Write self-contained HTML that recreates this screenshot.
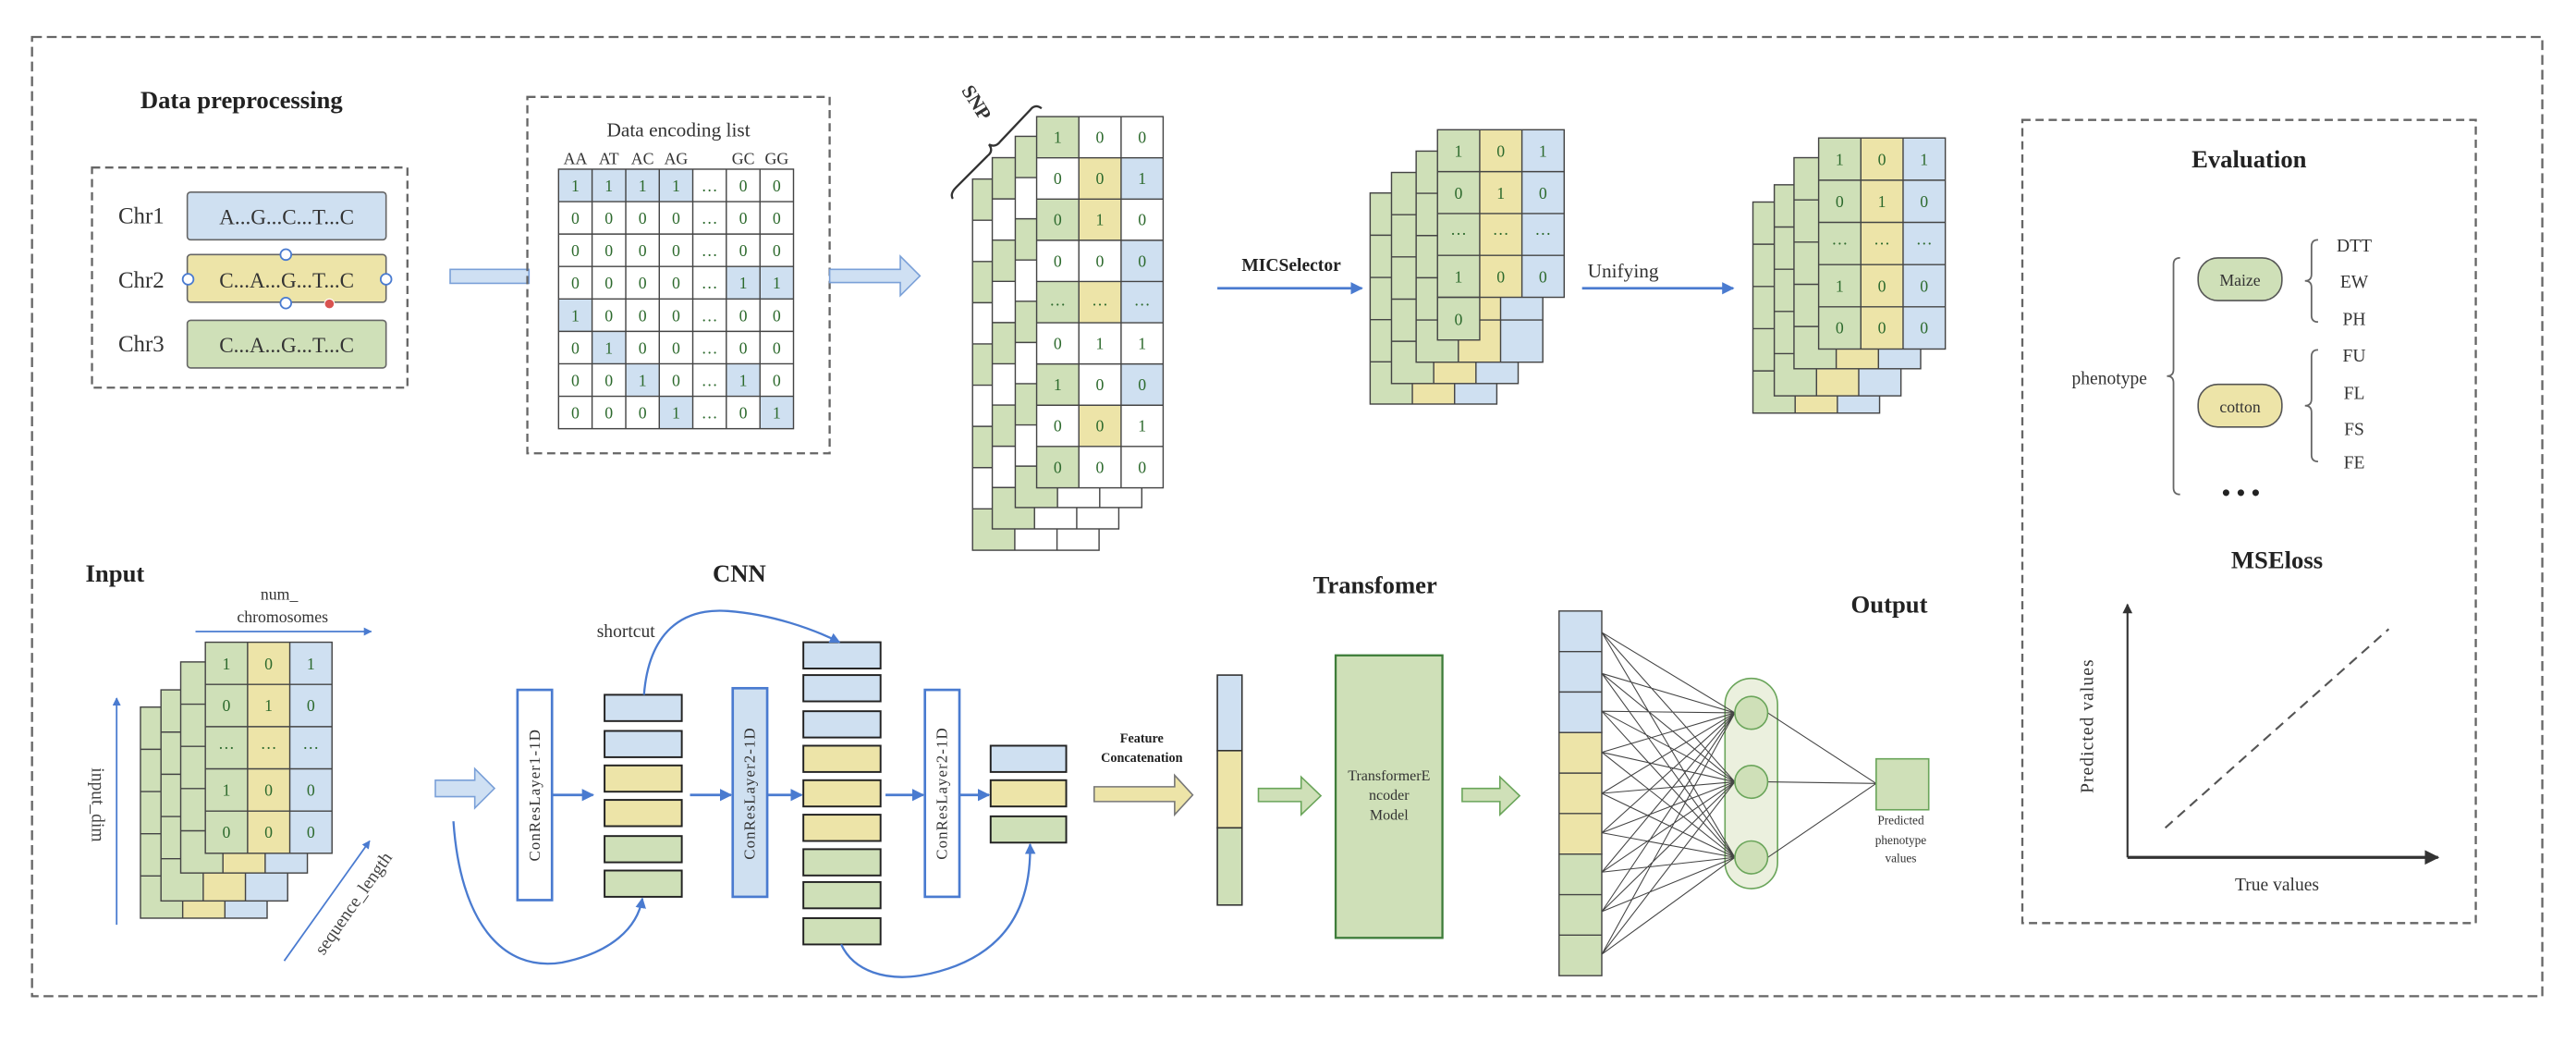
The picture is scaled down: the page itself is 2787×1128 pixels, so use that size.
<!DOCTYPE html>
<html><head><meta charset="utf-8"><style>
html,body{margin:0;padding:0;background:#fff;}
svg{display:block;}
text{font-family:"Liberation Serif",serif;}
</style></head><body>
<svg width="2787" height="1128" viewBox="0 0 1568 635" preserveAspectRatio="none" xmlns="http://www.w3.org/2000/svg">
<defs>
<marker id="ab" viewBox="0 0 10 10" refX="9" refY="5" markerWidth="5" markerHeight="5" orient="auto"><path d="M0,0 L10,5 L0,10 z" fill="#4a7bd0"/></marker>
<marker id="ak" viewBox="0 0 10 10" refX="9" refY="5" markerWidth="5" markerHeight="5" orient="auto"><path d="M0,0 L10,5 L0,10 z" fill="#333"/></marker>
<g id="s5">
<rect x="0" y="0" width="25.7" height="128.5" fill="#cfe0b8"/>
<rect x="25.7" y="0" width="25.7" height="128.5" fill="#ede4a8"/>
<rect x="51.4" y="0" width="25.7" height="128.5" fill="#cfe0f1"/>
<g stroke="#444" stroke-width="0.8" fill="none">
<rect x="0" y="0" width="77.1" height="128.5"/>
<path d="M25.7,0V128.5M51.4,0V128.5M0,25.7H77.1M0,51.4H77.1M0,77.1H77.1M0,102.8H77.1"/>
</g></g>
<g id="snpb">
<rect x="0" y="0" width="77" height="226" fill="#fff"/>
<g fill="#cfe0b8"><rect x="0" y="0" width="25.7" height="25.1"/><rect x="0" y="50.2" width="25.7" height="25.1"/><rect x="0" y="100.4" width="25.7" height="25.1"/><rect x="0" y="150.6" width="25.7" height="25.1"/><rect x="0" y="200.8" width="25.7" height="25.2"/></g>
<g stroke="#444" stroke-width="0.8" fill="none">
<rect x="0" y="0" width="77" height="226"/>
<path d="M25.7,0V226M51.4,0V226M0,25.1H77M0,50.2H77M0,75.3H77M0,100.4H77M0,125.5H77M0,150.6H77M0,175.7H77M0,200.8H77"/>
</g></g>
</defs>

<rect x="19.5" y="22.5" width="1528" height="584" fill="none" stroke="#666" stroke-width="1.3" stroke-dasharray="6,3"/>

<text x="147" y="66" font-size="15" font-weight="bold" text-anchor="middle" fill="#222">Data preprocessing</text>
<rect x="56" y="102" width="192" height="134" fill="none" stroke="#666" stroke-width="1.3" stroke-dasharray="5,3"/>
<text x="72" y="136" font-size="14" fill="#333">Chr1</text>
<text x="72" y="175" font-size="14" fill="#333">Chr2</text>
<text x="72" y="214" font-size="14" fill="#333">Chr3</text>
<rect x="114" y="117" width="121" height="29" rx="2" fill="#cfe0f1" stroke="#666" stroke-width="0.9"/>
<rect x="114" y="155" width="121" height="29" rx="2" fill="#ede4a8" stroke="#666" stroke-width="0.9"/>
<rect x="114" y="195" width="121" height="29" rx="2" fill="#cfe0b8" stroke="#666" stroke-width="0.9"/>
<text x="174.5" y="136.5" font-size="13" text-anchor="middle" fill="#333">A...G...C...T...C</text>
<text x="174.5" y="175" font-size="13" text-anchor="middle" fill="#333">C...A...G...T...C</text>
<text x="174.5" y="214.5" font-size="13" text-anchor="middle" fill="#333">C...A...G...T...C</text>
<g fill="#fff" stroke="#4a7bd0" stroke-width="1"><circle cx="174" cy="155" r="3.3"/><circle cx="114.5" cy="170" r="3.3"/><circle cx="235" cy="170" r="3.3"/><circle cx="174" cy="184.5" r="3.3"/></g>
<circle cx="200.5" cy="185" r="3" fill="#d9534f" stroke="#fff" stroke-width="0.6"/>

<rect x="274" y="164" width="48" height="8.5" fill="#cfe0f3" stroke="#7aa0d8" stroke-width="0.9"/>

<rect x="321" y="59" width="184" height="217" fill="none" stroke="#666" stroke-width="1.3" stroke-dasharray="5,3"/>
<text x="413" y="83" font-size="12" text-anchor="middle" fill="#333">Data encoding list</text>
<g font-size="10" fill="#333" text-anchor="middle">
<text x="350.2" y="100">AA</text><text x="370.6" y="100">AT</text><text x="391.1" y="100">AC</text><text x="411.5" y="100">AG</text><text x="452.4" y="100">GC</text><text x="472.8" y="100">GG</text>
</g>
<rect x="340" y="103" width="143" height="158" fill="#fff"/>
<g fill="#cfe0f1">
<rect x="340" y="103" width="81.7" height="19.75"/>
<rect x="442.1" y="162.25" width="40.9" height="19.75"/>
<rect x="340" y="182" width="20.4" height="19.75"/>
<rect x="360.4" y="201.75" width="20.5" height="19.75"/>
<rect x="380.9" y="221.5" width="20.4" height="19.75"/>
<rect x="442.1" y="221.5" width="20.5" height="19.75"/>
<rect x="401.3" y="241.25" width="20.4" height="19.75"/>
<rect x="462.6" y="241.25" width="20.4" height="19.75"/>
</g>
<g stroke="#444" stroke-width="0.8" fill="none">
<rect x="340" y="103" width="143" height="158"/>
<path d="M360.4,103V261M380.9,103V261M401.3,103V261M421.7,103V261M442.1,103V261M462.6,103V261M340,122.75H483M340,142.5H483M340,162.25H483M340,182H483M340,201.75H483M340,221.5H483M340,241.25H483"/>
</g>
<g font-size="10" fill="#2d6a2d" text-anchor="middle">
<text x="350.2 370.6 391.1 411.5 431.9 452.4 472.8" y="116.5">1111…00</text>
<text x="350.2 370.6 391.1 411.5 431.9 452.4 472.8" y="136.2">0000…00</text>
<text x="350.2 370.6 391.1 411.5 431.9 452.4 472.8" y="156">0000…00</text>
<text x="350.2 370.6 391.1 411.5 431.9 452.4 472.8" y="175.7">0000…11</text>
<text x="350.2 370.6 391.1 411.5 431.9 452.4 472.8" y="195.5">1000…00</text>
<text x="350.2 370.6 391.1 411.5 431.9 452.4 472.8" y="215.2">0100…00</text>
<text x="350.2 370.6 391.1 411.5 431.9 452.4 472.8" y="235">0010…10</text>
<text x="350.2 370.6 391.1 411.5 431.9 452.4 472.8" y="254.7">0001…01</text>
</g>

<path d="M505,164 H548 V156 L560,168 L548,180 V172 H505 Z" fill="#cfe0f3" stroke="#7aa0d8" stroke-width="0.9"/>

<use href="#snpb" x="592" y="109"/>
<use href="#snpb" x="604" y="96"/>
<use href="#snpb" x="618" y="83"/>
<rect x="631" y="71" width="77" height="226" fill="#fff"/>
<g>
<rect x="631" y="71" width="25.7" height="25.1" fill="#cfe0b8"/>
<rect x="656.7" y="96.1" width="25.7" height="25.1" fill="#ede4a8"/><rect x="682.4" y="96.1" width="25.6" height="25.1" fill="#cfe0f1"/>
<rect x="631" y="121.2" width="25.7" height="25.1" fill="#cfe0b8"/><rect x="656.7" y="121.2" width="25.7" height="25.1" fill="#ede4a8"/>
<rect x="682.4" y="146.3" width="25.6" height="25.1" fill="#cfe0f1"/>
<rect x="631" y="171.4" width="25.7" height="25.1" fill="#cfe0b8"/><rect x="656.7" y="171.4" width="25.7" height="25.1" fill="#ede4a8"/><rect x="682.4" y="171.4" width="25.6" height="25.1" fill="#cfe0f1"/>
<rect x="631" y="221.6" width="25.7" height="25.1" fill="#cfe0b8"/><rect x="682.4" y="221.6" width="25.6" height="25.1" fill="#cfe0f1"/>
<rect x="656.7" y="246.7" width="25.7" height="25.1" fill="#ede4a8"/>
<rect x="631" y="271.8" width="25.7" height="25.2" fill="#cfe0b8"/>
</g>
<g stroke="#444" stroke-width="0.8" fill="none">
<rect x="631" y="71" width="77" height="226"/>
<path d="M656.7,71V297M682.4,71V297M631,96.1H708M631,121.2H708M631,146.3H708M631,171.4H708M631,196.5H708M631,221.6H708M631,246.7H708M631,271.8H708"/>
</g>
<g font-size="10" fill="#2d6a2d" text-anchor="middle">
<text x="643.8 669.5 695.2" y="87">100</text>
<text x="643.8 669.5 695.2" y="112">001</text>
<text x="643.8 669.5 695.2" y="137">010</text>
<text x="643.8 669.5 695.2" y="162.5">000</text>
<text x="643.8 669.5 695.2" y="186">………</text>
<text x="643.8 669.5 695.2" y="212.5">011</text>
<text x="643.8 669.5 695.2" y="237.5">100</text>
<text x="643.8 669.5 695.2" y="262.5">001</text>
<text x="643.8 669.5 695.2" y="288">000</text>
</g>
<path d="M634,66 Q630,63 627,67 L609,86 Q606,90 602,88 Q605,92 601,95 L582,114 Q578,118 580,121" fill="none" stroke="#333" stroke-width="1.3"/>
<text x="0" y="0" font-size="12" font-weight="bold" fill="#333" transform="translate(585,55) rotate(58)">SNP</text>

<text x="786" y="165" font-size="11" font-weight="bold" text-anchor="middle" fill="#222">MICSelector</text>
<line x1="741" y1="175.5" x2="829" y2="175.5" stroke="#4a7bd0" stroke-width="1.5" marker-end="url(#ab)"/>

<use href="#s5" x="834" y="117.5"/>
<use href="#s5" x="847" y="105"/>
<use href="#s5" x="862" y="92"/>
<g transform="translate(875,79)">
<rect x="0" y="0" width="25.7" height="128" fill="#cfe0b8"/>
<rect x="25.7" y="0" width="25.7" height="102" fill="#ede4a8"/>
<rect x="51.4" y="0" width="25.7" height="102" fill="#cfe0f1"/>
<g stroke="#444" stroke-width="0.8" fill="none">
<rect x="0" y="0" width="77.1" height="102"/><rect x="0" y="102" width="25.7" height="26"/>
<path d="M25.7,0V102M51.4,0V102M0,25.5H77.1M0,51H77.1M0,76.5H77.1"/>
</g>
<g font-size="10" fill="#2d6a2d" text-anchor="middle">
<text x="12.8 38.5 64.2" y="16.5">101</text>
<text x="12.8 38.5 64.2" y="42">010</text>
<text x="12.8 38.5 64.2" y="64">………</text>
<text x="12.8 38.5 64.2" y="93">100</text>
<text x="12.8" y="119">0</text>
</g></g>

<text x="988" y="169" font-size="12" text-anchor="middle" fill="#333">Unifying</text>
<line x1="963" y1="175.5" x2="1055" y2="175.5" stroke="#4a7bd0" stroke-width="1.5" marker-end="url(#ab)"/>

<use href="#s5" x="1067" y="123"/>
<use href="#s5" x="1080" y="112.5"/>
<use href="#s5" x="1092" y="96"/>
<use href="#s5" x="1107" y="84"/>
<g font-size="10" fill="#2d6a2d" text-anchor="middle" transform="translate(1107,84)">
<text x="12.8 38.5 64.2" y="16.5">101</text>
<text x="12.8 38.5 64.2" y="42">010</text>
<text x="12.8 38.5 64.2" y="65">………</text>
<text x="12.8 38.5 64.2" y="93.5">100</text>
<text x="12.8 38.5 64.2" y="119">000</text>
</g>

<rect x="1231" y="73" width="276" height="489" fill="none" stroke="#666" stroke-width="1.3" stroke-dasharray="5,3"/>
<text x="1369" y="102" font-size="15" font-weight="bold" text-anchor="middle" fill="#222">Evaluation</text>
<rect x="1338" y="157" width="51" height="26" rx="12" fill="#cfe0b8" stroke="#555" stroke-width="0.9"/>
<text x="1363.5" y="174" font-size="10" text-anchor="middle" fill="#333">Maize</text>
<rect x="1338" y="234" width="51" height="26" rx="12" fill="#ede4a8" stroke="#555" stroke-width="0.9"/>
<text x="1363.5" y="251" font-size="10" text-anchor="middle" fill="#333">cotton</text>
<g fill="none" stroke="#666" stroke-width="1">
<path d="M1411,146 q-4,0 -4,4 v17 q0,4 -4,4 q4,0 4,4 v17 q0,4 4,4"/>
<path d="M1411,213 q-4,0 -4,4 v26 q0,4 -4,4 q4,0 4,4 v26 q0,4 4,4"/>
<path d="M1327,157 q-4,0 -4,4 v64 q0,4 -4,4 q4,0 4,4 v64 q0,4 4,4"/>
</g>
<g font-size="11" fill="#333" text-anchor="middle">
<text x="1433" y="153">DTT</text><text x="1433" y="175">EW</text><text x="1433" y="198">PH</text>
<text x="1433" y="220">FU</text><text x="1433" y="243">FL</text><text x="1433" y="265">FS</text><text x="1433" y="285">FE</text>
<text x="1284" y="234">phenotype</text>
</g>
<g fill="#222"><circle cx="1355" cy="300" r="2"/><circle cx="1364" cy="300" r="2"/><circle cx="1373" cy="300" r="2"/></g>

<text x="1386" y="346" font-size="15" font-weight="bold" text-anchor="middle" fill="#222">MSEloss</text>
<line x1="1295" y1="522" x2="1295" y2="368" stroke="#333" stroke-width="1.2" marker-end="url(#ak)"/>
<line x1="1295" y1="522" x2="1484" y2="522" stroke="#333" stroke-width="1.8" marker-end="url(#ak)"/>
<line x1="1318" y1="504" x2="1454" y2="383" stroke="#555" stroke-width="1.2" stroke-dasharray="6,4"/>
<text x="0" y="0" font-size="11" fill="#333" text-anchor="middle" transform="translate(1274,442) rotate(-90)" letter-spacing="0.6">Predicted values</text>
<text x="1386" y="542" font-size="11" text-anchor="middle" fill="#333">True values</text>

<text x="70" y="354" font-size="15" font-weight="bold" text-anchor="middle" fill="#222">Input</text>
<text x="170" y="365" font-size="10" text-anchor="middle" fill="#333">num_</text>
<text x="172" y="379" font-size="10" text-anchor="middle" fill="#333">chromosomes</text>
<line x1="119" y1="384.5" x2="226" y2="384.5" stroke="#4a7bd0" stroke-width="1" marker-end="url(#ab)"/>
<line x1="71" y1="563" x2="71" y2="425" stroke="#4a7bd0" stroke-width="1" marker-end="url(#ab)"/>
<text x="0" y="0" font-size="11" fill="#444" text-anchor="middle" transform="translate(56,490) rotate(90)">input_dim</text>
<line x1="173" y1="585" x2="225" y2="512" stroke="#4a7bd0" stroke-width="1" marker-end="url(#ab)"/>
<text x="0" y="0" font-size="11" fill="#444" text-anchor="middle" transform="translate(218,552) rotate(-55)">sequence_length</text>
<use href="#s5" x="85.5" y="430.5"/>
<use href="#s5" x="98" y="420"/>
<use href="#s5" x="110" y="403"/>
<use href="#s5" x="125" y="391"/>
<g font-size="10" fill="#2d6a2d" text-anchor="middle" transform="translate(125,391)">
<text x="12.8 38.5 64.2" y="16.5">101</text>
<text x="12.8 38.5 64.2" y="42">010</text>
<text x="12.8 38.5 64.2" y="65">………</text>
<text x="12.8 38.5 64.2" y="93.5">100</text>
<text x="12.8 38.5 64.2" y="119">000</text>
</g>

<text x="450" y="354" font-size="15" font-weight="bold" text-anchor="middle" fill="#222">CNN</text>
<path d="M265,475 H289 V468 L301,480 L289,492 V485 H265 Z" fill="#cfe0f3" stroke="#7aa0d8" stroke-width="0.9"/>
<rect x="315" y="420" width="21" height="128" fill="#fff" stroke="#4a7bd0" stroke-width="1.5"/>
<text x="0" y="0" font-size="9.5" fill="#333" text-anchor="middle" letter-spacing="0.6" transform="translate(328.5,484) rotate(-90)">ConResLayer1-1D</text>
<rect x="446" y="419" width="21" height="127" fill="#cfe0f1" stroke="#4a7bd0" stroke-width="1.5"/>
<text x="0" y="0" font-size="9.5" fill="#333" text-anchor="middle" letter-spacing="0.6" transform="translate(459.5,483) rotate(-90)">ConResLayer2-1D</text>
<rect x="563" y="420" width="21" height="126" fill="#fff" stroke="#4a7bd0" stroke-width="1.5"/>
<text x="0" y="0" font-size="9.5" fill="#333" text-anchor="middle" letter-spacing="0.6" transform="translate(576.5,483) rotate(-90)">ConResLayer2-1D</text>
<g stroke="#4a7bd0" stroke-width="1.5" marker-end="url(#ab)">
<line x1="336" y1="484" x2="361" y2="484"/>
<line x1="420" y1="484" x2="445" y2="484"/>
<line x1="467" y1="484" x2="488" y2="484"/>
<line x1="539" y1="484" x2="562" y2="484"/>
<line x1="584" y1="484" x2="602" y2="484"/>
</g>
<g stroke="#222" stroke-width="1.1">
<rect x="368" y="423" width="47" height="16" fill="#cfe0f1"/>
<rect x="368" y="445" width="47" height="16" fill="#cfe0f1"/>
<rect x="368" y="466" width="47" height="16" fill="#ede4a8"/>
<rect x="368" y="487" width="47" height="16" fill="#ede4a8"/>
<rect x="368" y="509" width="47" height="16" fill="#cfe0b8"/>
<rect x="368" y="530" width="47" height="16" fill="#cfe0b8"/>
<rect x="489" y="391" width="47" height="16" fill="#cfe0f1"/>
<rect x="489" y="411" width="47" height="16" fill="#cfe0f1"/>
<rect x="489" y="433" width="47" height="16" fill="#cfe0f1"/>
<rect x="489" y="454" width="47" height="16" fill="#ede4a8"/>
<rect x="489" y="475" width="47" height="16" fill="#ede4a8"/>
<rect x="489" y="496" width="47" height="16" fill="#ede4a8"/>
<rect x="489" y="517" width="47" height="16" fill="#cfe0b8"/>
<rect x="489" y="537" width="47" height="16" fill="#cfe0b8"/>
<rect x="489" y="559" width="47" height="16" fill="#cfe0b8"/>
<rect x="603" y="454" width="46" height="16" fill="#cfe0f1"/>
<rect x="603" y="475" width="46" height="16" fill="#ede4a8"/>
<rect x="603" y="497" width="46" height="16" fill="#cfe0b8"/>
</g>
<text x="381" y="388" font-size="11" text-anchor="middle" fill="#333">shortcut</text>
<g fill="none" stroke="#4a7bd0" stroke-width="1.3" marker-end="url(#ab)">
<path d="M392,423 C395,385 415,370 443,372 C470,374 495,383 511,391"/>
<path d="M276,500 C280,560 305,592 342,586 C372,580 388,565 391,547"/>
<path d="M512,575 C520,592 540,597 560,594 C605,586 628,560 627,514"/>
</g>

<text x="695" y="452" font-size="8" font-weight="bold" text-anchor="middle" fill="#222">Feature</text>
<text x="695" y="464" font-size="8" font-weight="bold" text-anchor="middle" fill="#222">Concatenation</text>
<path d="M666,479 H715 V472 L726,484 L715,496 V488 H666 Z" fill="#ede4a8" stroke="#777" stroke-width="0.9"/>
<rect x="741" y="411" width="15" height="46" fill="#cfe0f1" stroke="#333" stroke-width="0.9"/>
<rect x="741" y="457" width="15" height="47" fill="#ede4a8" stroke="#333" stroke-width="0.9"/>
<rect x="741" y="504" width="15" height="47" fill="#cfe0b8" stroke="#333" stroke-width="0.9"/>

<path d="M766,480 H792 V473 L804,484.5 L792,496 V488 H766 Z" fill="#cfe0b8" stroke="#6aa55a" stroke-width="0.9"/>
<text x="837" y="361" font-size="15" font-weight="bold" text-anchor="middle" fill="#222">Transfomer</text>
<rect x="813" y="399" width="65" height="172" fill="#cfe0b8" stroke="#3e7d3a" stroke-width="1.3"/>
<g font-size="9" text-anchor="middle" fill="#333">
<text x="845.5" y="475">TransformerE</text><text x="845.5" y="487">ncoder</text><text x="845.5" y="499">Model</text>
</g>
<path d="M890,480 H913 V473 L925,484.5 L913,496 V488 H890 Z" fill="#cfe0b8" stroke="#6aa55a" stroke-width="0.9"/>

<text x="1150" y="373" font-size="15" font-weight="bold" text-anchor="middle" fill="#222">Output</text>
<g stroke="#444" stroke-width="0.8">
<rect x="949" y="372" width="26" height="74" fill="#cfe0f1"/>
<rect x="949" y="446" width="26" height="74" fill="#ede4a8"/>
<rect x="949" y="520" width="26" height="74" fill="#cfe0b8"/>
<path d="M949,396.7H975M949,421.3H975M949,470.7H975M949,495.3H975M949,544.7H975M949,569.3H975"/>
</g>
<rect x="1050" y="413" width="32" height="128" rx="16" fill="#ebf0de" stroke="#6aa55a" stroke-width="0.9"/>
<g stroke="#444" stroke-width="0.6">
<path d="M975,385L1056,434M975,385L1056,476M975,385L1056,522
M975,410L1056,434M975,410L1056,476M975,410L1056,522
M975,433L1056,434M975,433L1056,476M975,433L1056,522
M975,458L1056,434M975,458L1056,476M975,458L1056,522
M975,483L1056,434M975,483L1056,476M975,483L1056,522
M975,507L1056,434M975,507L1056,476M975,507L1056,522
M975,531L1056,434M975,531L1056,476M975,531L1056,522
M975,555L1056,434M975,555L1056,476M975,555L1056,522
M975,581L1056,434M975,581L1056,476M975,581L1056,522
M1076,434L1142,477M1076,476L1142,477M1076,522L1142,477"/>
</g>
<g fill="#cfe0b8" stroke="#6aa55a" stroke-width="0.9">
<ellipse cx="1066" cy="434" rx="10" ry="10"/>
<ellipse cx="1066" cy="476" rx="10" ry="10"/>
<ellipse cx="1066" cy="522" rx="10" ry="10"/>
<rect x="1142" y="462" width="32" height="31"/>
</g>
<g font-size="7.5" text-anchor="middle" fill="#333">
<text x="1157" y="502">Predicted</text><text x="1157" y="514">phenotype</text><text x="1157" y="525">values</text>
</g>
</svg>
</body></html>
